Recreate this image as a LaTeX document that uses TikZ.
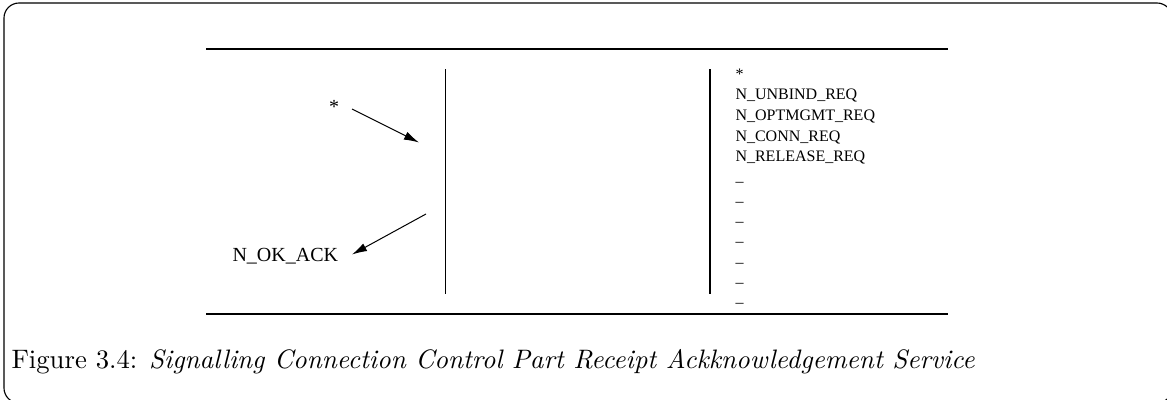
\documentclass[tikz,border=0pt]{standalone}
\usepackage{fontspec}
\newfontfamily\tms[Ligatures=TeX]{Liberation Serif}
\usetikzlibrary{arrows.meta}
\begin{document}
\begin{tikzpicture}[x=0.4pt,y=-0.4pt,
  rulel/.style={line width=0.45pt},
  lifeline/.style={line width=0.5pt},
  arr/.style={line width=0.4pt,-{Latex[length=6pt,width=3.4pt]}},
  prim/.style={font=\tms\fontsize{6.4pt}{7pt}\selectfont,inner sep=0pt,anchor=base west},
  lbl/.style={font=\tms\fontsize{8pt}{9pt}\selectfont,inner sep=0pt},
  frame/.style={line width=0.45pt,rounded corners=6pt}]
\useasboundingbox (0,0) rectangle (1167,400);
% surrounding frame
\draw[frame] (4,3) rectangle (1172,403);
% horizontal rules
\coordinate (tl) at (206,49);
\coordinate (tr) at (948,49);
\coordinate (bl) at (206,314);
\coordinate (br) at (948,314);
\draw[rulel] (tl) -- (tr);
\draw[rulel] (bl) -- (br);
% the two vertical lines
\coordinate (v1t) at (445.5,69);
\coordinate (v1b) at (445.5,294);
\coordinate (v2t) at (710,69);
\coordinate (v2b) at (710,294);
\draw[lifeline] (v1t) -- (v1b);
\draw[lifeline] (v2t) -- (v2b);
% left side: incoming and outgoing primitives
\node[lbl] (lstar) at (334,107) {*};
\node[lbl,anchor=base west] (okack) at (232,261) {N\_OK\_ACK};
\coordinate (a1s) at (352,109);
\coordinate (a1e) at (419,142.5);
\coordinate (a2s) at (426,214);
\coordinate (a2e) at (352,254.5);
\draw[arr] (a1s) -- (a1e);
\draw[arr] (a2s) -- (a2e);
% right side: list of primitives
\node[prim] (rstar) at (735,80) {*};
\node[prim] (p1) at (735,100) {N\_UNBIND\_REQ};
\node[prim] (p2) at (735,120.5) {N\_OPTMGMT\_REQ};
\node[prim] (p3) at (735,141) {N\_CONN\_REQ};
\node[prim] (p4) at (735,161) {N\_RELEASE\_REQ};
\node[prim] (d1) at (735,186) {--};
\node[prim] (d2) at (735,206.5) {--};
\node[prim] (d3) at (735,226.5) {--};
\node[prim] (d4) at (735,246.5) {--};
\node[prim] (d5) at (735,267) {--};
\node[prim] (d6) at (735,287) {--};
\node[prim] (d7) at (735,307.5) {--};
% caption
\node[inner sep=0pt,anchor=base west,font=\fontsize{10.68pt}{12.8pt}\selectfont] (cap) at (11,368)
  {Figure 3.4: \textit{Signalling Connection Control Part Receipt Ackknowledgement Service}};
\end{tikzpicture}
\end{document}
